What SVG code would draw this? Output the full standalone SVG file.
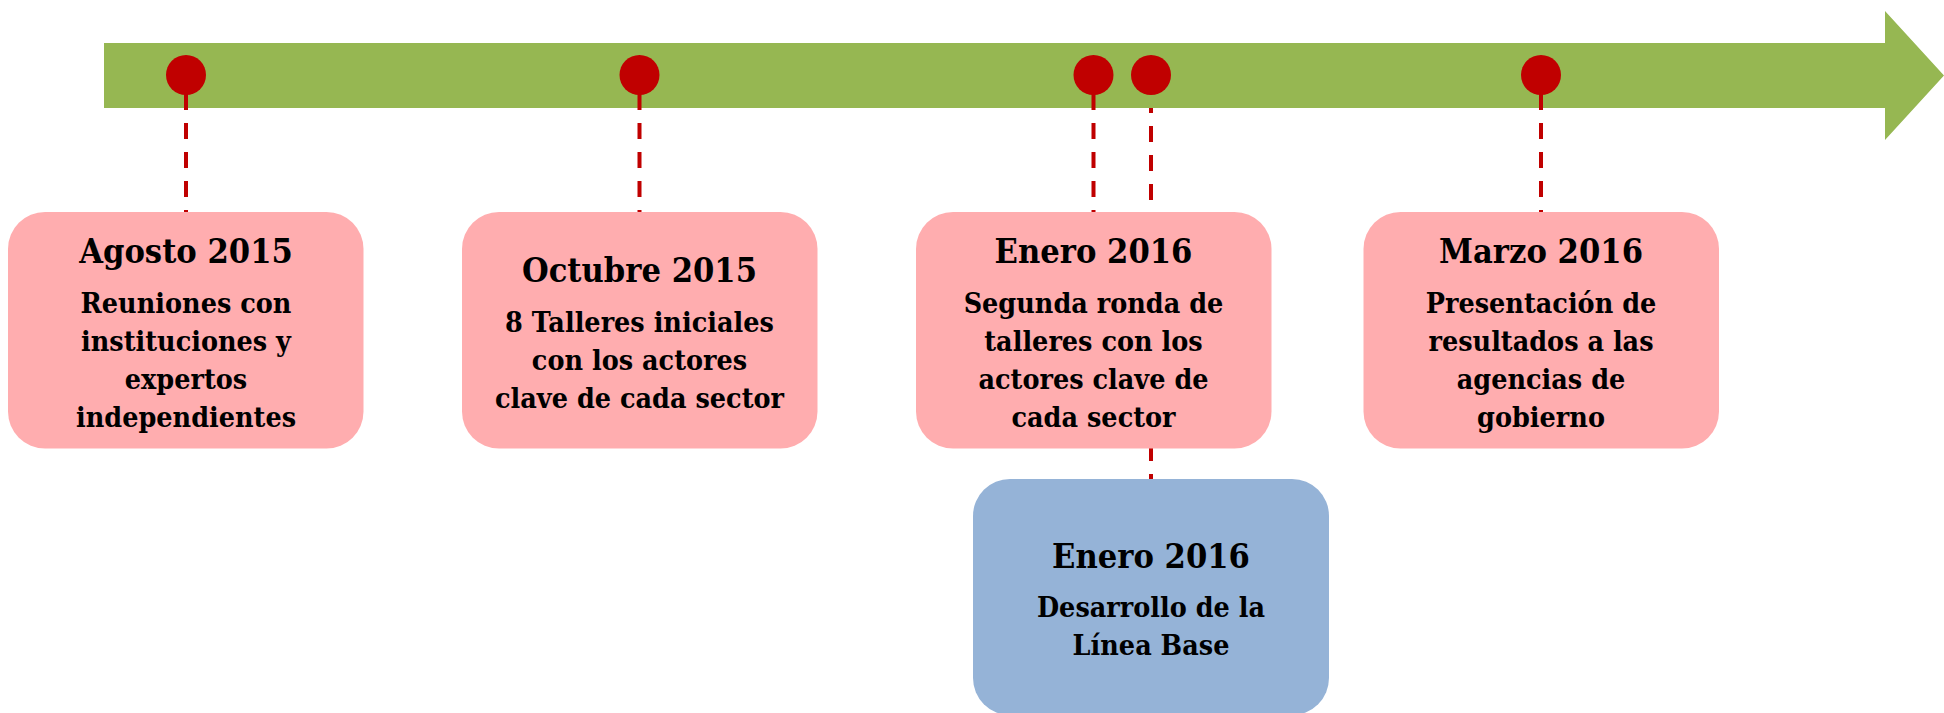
<svg xmlns="http://www.w3.org/2000/svg" width="1944" height="713" viewBox="0 0 1944 713">
<style>
.lead{stroke:#C00000;stroke-width:4;stroke-dasharray:16 13;fill:none}
.dot{fill:#C00000}
.pink{fill:#FFADAF}
.blue{fill:#95B3D7}
.t{font-family:"DejaVu Serif","Liberation Serif",serif;font-weight:bold;fill:#000;text-anchor:middle}
.h{font-size:33px}
.b{font-size:27.5px}
</style>
<rect x="0" y="0" width="1944" height="713" fill="#FFFFFF"/>
<g id="connector-back">
<line class="lead" x1="1151" y1="97" x2="1151" y2="479"/>
</g>
<g id="timeline">
<polygon points="104,43 1885,43 1885,11 1944,75.5 1885,140 1885,108 104,108" fill="#96B752"/>
</g>
<g id="connectors">
<line class="lead" x1="186" y1="94" x2="186" y2="213"/>
<line class="lead" x1="639.5" y1="94" x2="639.5" y2="213"/>
<line class="lead" x1="1093.5" y1="94" x2="1093.5" y2="213"/>
<line class="lead" x1="1541" y1="94" x2="1541" y2="213"/>
</g>
<g id="markers">
<circle class="dot" cx="186" cy="75" r="20"/>
<circle class="dot" cx="639.5" cy="75" r="20"/>
<circle class="dot" cx="1093.5" cy="75" r="20"/>
<circle class="dot" cx="1151" cy="75" r="20"/>
<circle class="dot" cx="1541" cy="75" r="20"/>
</g>
<g id="node-agosto-2015">
<rect class="pink" x="8" y="212" width="355.5" height="236.5" rx="37" ry="37"/>
<g transform="translate(186 0) scale(0.93 1)">
<text class="t h" x="0" y="263">Agosto 2015</text>
<text class="t b" x="0" y="313">Reuniones con</text>
<text class="t b" x="0" y="351">instituciones y</text>
<text class="t b" x="0" y="389">expertos</text>
<text class="t b" x="0" y="427">independientes</text>
</g>
</g>
<g id="node-octubre-2015">
<rect class="pink" x="462" y="212" width="355.5" height="236.5" rx="37" ry="37"/>
<g transform="translate(639.5 0) scale(0.93 1)">
<text class="t h" x="0" y="282">Octubre 2015</text>
<text class="t b" x="0" y="332">8 Talleres iniciales</text>
<text class="t b" x="0" y="370">con los actores</text>
<text class="t b" x="0" y="408">clave de cada sector</text>
</g>
</g>
<g id="node-enero-2016">
<rect class="pink" x="916" y="212" width="355.5" height="236.5" rx="37" ry="37"/>
<g transform="translate(1093.5 0) scale(0.93 1)">
<text class="t h" x="0" y="263">Enero 2016</text>
<text class="t b" x="0" y="313">Segunda ronda de</text>
<text class="t b" x="0" y="351">talleres con los</text>
<text class="t b" x="0" y="389">actores clave de</text>
<text class="t b" x="0" y="427">cada sector</text>
</g>
</g>
<g id="node-marzo-2016">
<rect class="pink" x="1363.5" y="212" width="355.5" height="236.5" rx="37" ry="37"/>
<g transform="translate(1541 0) scale(0.93 1)">
<text class="t h" x="0" y="263">Marzo 2016</text>
<text class="t b" x="0" y="313">Presentación de</text>
<text class="t b" x="0" y="351">resultados a las</text>
<text class="t b" x="0" y="389">agencias de</text>
<text class="t b" x="0" y="427">gobierno</text>
</g>
</g>
<g id="node-linea-base">
<rect class="blue" x="973" y="479" width="356" height="236" rx="37" ry="37"/>
<g transform="translate(1151 0) scale(0.93 1)">
<text class="t h" x="0" y="568">Enero 2016</text>
<text class="t b" x="0" y="617">Desarrollo de la</text>
<text class="t b" x="0" y="655">Línea Base</text>
</g>
</g>
</svg>
